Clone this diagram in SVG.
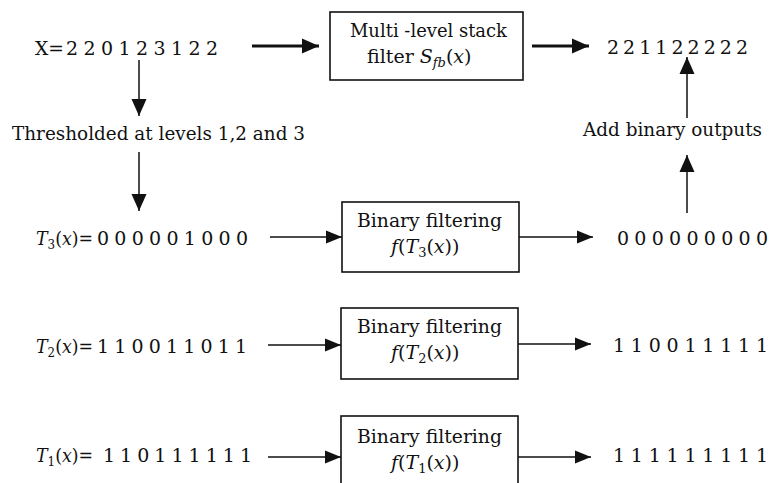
<svg xmlns="http://www.w3.org/2000/svg" width="771" height="483" viewBox="0 0 771 483">
<defs>
<style>
text{font-family:"DejaVu Serif","Liberation Serif",serif;font-size:19px;fill:#111}
.i{font-style:italic}
.sub{font-size:13px}
.box{fill:#fff;stroke:#111;stroke-width:1.6}
.thick{stroke:#111;stroke-width:3;fill:none}
.thin{stroke:#111;stroke-width:1.5;fill:none}
</style>
<marker id="big" markerUnits="userSpaceOnUse" markerWidth="17" markerHeight="17" refX="17" refY="8.5" orient="auto">
<path d="M0,1 L17,8.5 L0,16 z" fill="#111"/>
</marker>
<marker id="small" markerUnits="userSpaceOnUse" markerWidth="16" markerHeight="14" refX="16" refY="7" orient="auto">
<path d="M0,0.5 L16,7 L0,13.5 z" fill="#111"/>
</marker>
</defs>
<rect width="771" height="483" fill="#fff"/>

<g id="connectors">
<line class="thick" x1="252" y1="46" x2="319" y2="46" marker-end="url(#big)"/>
<line class="thick" x1="532" y1="46" x2="589" y2="46" marker-end="url(#big)"/>
<line class="thin" x1="139" y1="60" x2="139" y2="116" marker-end="url(#big)"/>
<line class="thin" x1="139" y1="152" x2="139" y2="211" marker-end="url(#big)"/>
<line class="thin" x1="687" y1="118" x2="687" y2="57" marker-end="url(#big)"/>
<line class="thin" x1="687" y1="213" x2="687" y2="155" marker-end="url(#big)"/>
<line class="thin" x1="270" y1="237" x2="342" y2="237" marker-end="url(#small)"/>
<line class="thin" x1="519" y1="237" x2="593" y2="237" marker-end="url(#small)"/>
<line class="thin" x1="268" y1="345" x2="341" y2="345" marker-end="url(#small)"/>
<line class="thin" x1="518" y1="344" x2="591" y2="344" marker-end="url(#small)"/>
<line class="thin" x1="268" y1="457" x2="341" y2="457" marker-end="url(#small)"/>
<line class="thin" x1="518" y1="457" x2="591" y2="457" marker-end="url(#small)"/>
</g>

<g id="input">
<text x="35" y="55" textLength="29" lengthAdjust="spacingAndGlyphs">X=</text>
<text x="66" y="55" textLength="152" lengthAdjust="spacing">2 2 0 1 2 3 1 2 2</text>
</g>

<g id="stack-filter">
<rect class="box" x="330" y="12" width="193" height="68"/>
<text x="350" y="37" textLength="157" lengthAdjust="spacingAndGlyphs">Multi -level stack</text>
<text x="367" y="63">filter <tspan class="i">S</tspan><tspan class="i sub" dy="4">fb</tspan><tspan dy="-4">(</tspan><tspan class="i">x</tspan>)</text>
</g>

<g id="output-top">
<text x="607" y="54" textLength="141" lengthAdjust="spacing">2 2 1 1 2 2 2 2 2</text>
</g>

<g id="threshold-label">
<text x="12" y="140" textLength="293" lengthAdjust="spacingAndGlyphs">Thresholded at levels 1,2 and 3</text>
</g>

<g id="add-label">
<text x="583" y="136" textLength="179" lengthAdjust="spacingAndGlyphs">Add binary outputs</text>
</g>

<g id="T3">
<text x="36" y="245" textLength="57" lengthAdjust="spacingAndGlyphs"><tspan class="i">T</tspan><tspan class="sub" dy="4">3</tspan><tspan dy="-4">(</tspan><tspan class="i">x</tspan>)=</text>
<text x="97" y="245" textLength="151" lengthAdjust="spacing">0 0 0 0 0 1 0 0 0</text>
</g>
<g id="filter3">
<rect class="box" x="342" y="202" width="177" height="70"/>
<text x="357" y="227" textLength="145" lengthAdjust="spacingAndGlyphs">Binary filtering</text>
<text x="391" y="253"><tspan class="i">f</tspan>(<tspan class="i">T</tspan><tspan class="sub" dy="4">3</tspan><tspan dy="-4">(</tspan><tspan class="i">x</tspan>))</text>
</g>
<g id="out3">
<text x="617" y="245" textLength="151" lengthAdjust="spacing">0 0 0 0 0 0 0 0 0</text>
</g>

<g id="T2">
<text x="36" y="353" textLength="57" lengthAdjust="spacingAndGlyphs"><tspan class="i">T</tspan><tspan class="sub" dy="4">2</tspan><tspan dy="-4">(</tspan><tspan class="i">x</tspan>)=</text>
<text x="97" y="353" textLength="150" lengthAdjust="spacing">1 1 0 0 1 1 0 1 1</text>
</g>
<g id="filter2">
<rect class="box" x="341" y="308" width="177" height="71"/>
<text x="357" y="333" textLength="145" lengthAdjust="spacingAndGlyphs">Binary filtering</text>
<text x="391" y="359"><tspan class="i">f</tspan>(<tspan class="i">T</tspan><tspan class="sub" dy="4">2</tspan><tspan dy="-4">(</tspan><tspan class="i">x</tspan>))</text>
</g>
<g id="out2">
<text x="613" y="352" textLength="155" lengthAdjust="spacing">1 1 0 0 1 1 1 1 1</text>
</g>

<g id="T1">
<text x="36" y="462" textLength="57" lengthAdjust="spacingAndGlyphs"><tspan class="i">T</tspan><tspan class="sub" dy="4">1</tspan><tspan dy="-4">(</tspan><tspan class="i">x</tspan>)=</text>
<text x="103" y="462" textLength="149" lengthAdjust="spacing">1 1 0 1 1 1 1 1 1</text>
</g>
<g id="filter1">
<rect class="box" x="341" y="416" width="177" height="80"/>
<text x="357" y="443" textLength="145" lengthAdjust="spacingAndGlyphs">Binary filtering</text>
<text x="391" y="469"><tspan class="i">f</tspan>(<tspan class="i">T</tspan><tspan class="sub" dy="4">1</tspan><tspan dy="-4">(</tspan><tspan class="i">x</tspan>))</text>
</g>
<g id="out1">
<text x="613" y="462" textLength="155" lengthAdjust="spacing">1 1 1 1 1 1 1 1 1</text>
</g>
</svg>
